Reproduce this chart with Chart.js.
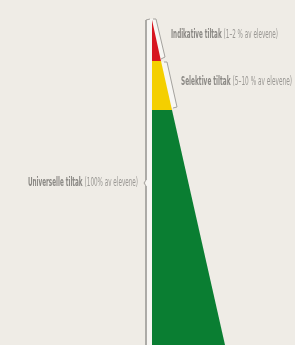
<!DOCTYPE html>
<html>
<head>
<meta charset="utf-8">
<script src="https://cdn.jsdelivr.net/npm/chart.js@4"></script>
<style>
  html, body { margin: 0; padding: 0; background: #efece6; }
  #wrap { width: 295px; height: 345px; }
</style>
</head>
<body>
<div id="wrap"><canvas id="chart"></canvas></div>
<script>
// nivåene i pyramiden, fra toppen og ned
const tierNames = ['Indikative tiltak', 'Selektive tiltak', 'Universelle tiltak'];
const tierShares = ['(1–2 % av elevene)', '(5–10 % av elevene)', '(100% av elevene)'];
const tierTop = [20, 61, 110];      // dybde der nivået starter
const tierBottom = [61, 110, 345];  // dybde der nivået slutter
const widthTop = [0, 9, 20];        // bredde øverst
const widthBottom = [9, 20, 73];    // bredde nederst
const tierColors = ['#d7161f', '#f4cf00', '#0a7e32'];

// klammene rundt nivåene (x = avstand fra venstre kant, y = dybde)
const outerBracket = [[-2, 19], [-6, 20], [-6, 180], [-8, 183], [-6, 186], [-6, 345]];
const redBracket = [[1, 19], [4, 19], [13, 57], [9, 59]];
const yellowBracket = [[12, 62], [15, 62], [25, 107], [21, 108]];

// hvor tekstene står: [x, y, bredde, justering]
const labelPos = [[19, 35, 107, 'left'], [29, 82, 111, 'left'], [-14, 183, 110, 'right']];

const toPoints = arr => arr.map(p => ({ x: p[0], y: p[1] }));

const datasets = [];

// lys bakgrunn innenfor klammene
[outerBracket, redBracket, yellowBracket].forEach(b => {
    datasets.push({
        data: toPoints(b.filter(p => p[0] !== -8)),
        borderWidth: 0,
        backgroundColor: 'rgba(255,255,255,0.5)',
        fill: { value: 0 },
        order: 10
    });
});

// selve nivåene
tierNames.forEach((name, i) => {
    datasets.push({
        label: name,
        data: [{ x: widthTop[i], y: tierTop[i] }, { x: widthBottom[i], y: tierBottom[i] }],
        borderWidth: 0,
        backgroundColor: tierColors[i],
        fill: { value: 0 },
        order: 5
    });
});

// klammene
[outerBracket, redBracket, yellowBracket].forEach(b => {
    datasets.push({
        data: toPoints(b),
        borderColor: '#a3a19d',
        borderWidth: 1,
        fill: false,
        order: 1
    });
});

// tekstene
const labelPlugin = {
    id: 'labels',
    afterDatasetsDraw(chart) {
        const { ctx, scales: { x, y } } = chart;
        const boldFont = 'bold 12px "Liberation Sans Narrow", "DejaVu Sans Condensed", sans-serif';
        const normalFont = '12px "Liberation Sans Narrow", "DejaVu Sans Condensed", sans-serif';
        tierNames.forEach((name, i) => {
            const [lx, ly, w, align] = labelPos[i];
            ctx.save();
            ctx.font = boldFont;
            const w1 = ctx.measureText(name + ' ').width;
            ctx.font = normalFont;
            const w2 = ctx.measureText(tierShares[i]).width;
            const sx = w / (w1 + w2);
            const px = x.getPixelForValue(lx);
            const py = y.getPixelForValue(ly);
            const start = align === 'left' ? px : px - w;
            ctx.translate(start, py);
            ctx.scale(sx, 1);
            ctx.textBaseline = 'middle';
            ctx.textAlign = 'left';
            ctx.fillStyle = '#8a8884';
            ctx.font = boldFont;
            ctx.fillText(name, 0, 0);
            ctx.font = normalFont;
            ctx.fillStyle = '#999793';
            ctx.fillText(tierShares[i], w1, 0);
            ctx.restore();
        });
    }
};

new Chart(document.getElementById('chart'), {
    type: 'line',
    data: { datasets },
    options: {
        indexAxis: 'y',
        responsive: true,
        maintainAspectRatio: false,
        animation: false,
        layout: { padding: 0 },
        elements: { point: { radius: 0 }, line: { tension: 0 } },
        scales: {
            x: { type: 'linear', min: -152, max: 143, display: false },
            y: { type: 'linear', min: 0, max: 345, reverse: true, display: false }
        },
        plugins: {
            legend: { display: false },
            tooltip: { enabled: false }
        }
    },
    plugins: [labelPlugin]
});
</script>
</body>
</html>
